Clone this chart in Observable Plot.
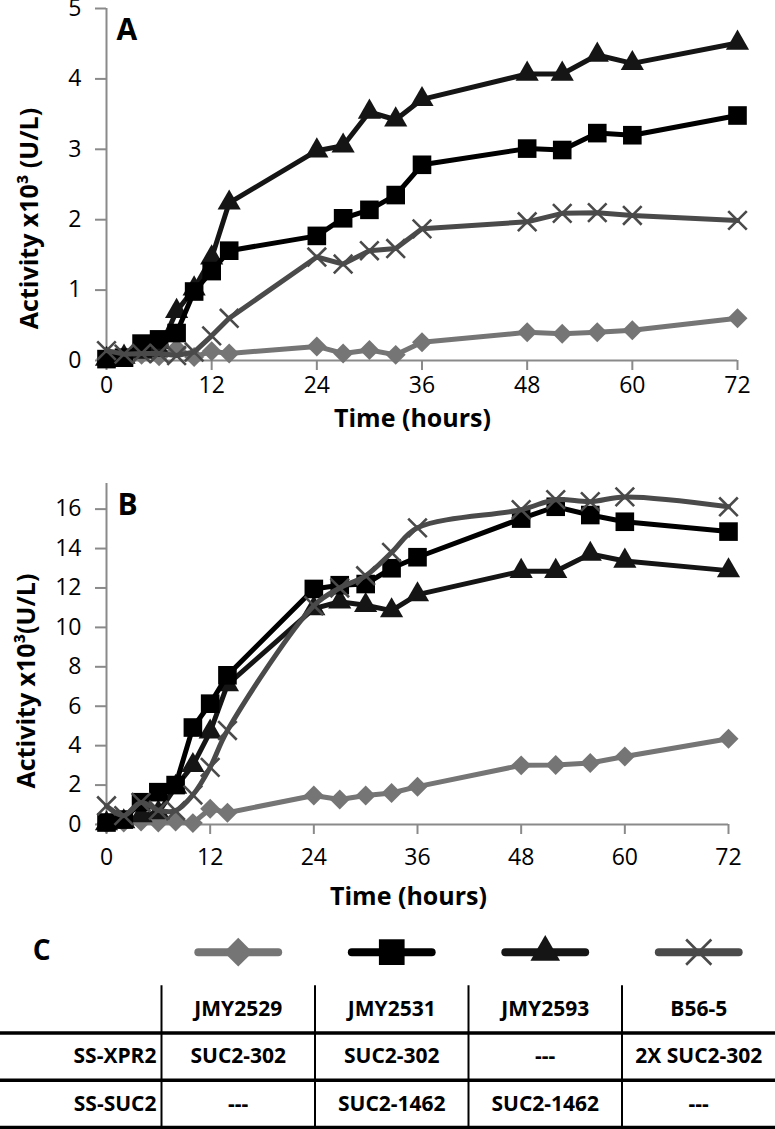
<!DOCTYPE html>
<html><head><meta charset="utf-8">
<script src="https://cdn.jsdelivr.net/npm/d3@7"></script>
<script src="https://cdn.jsdelivr.net/npm/@observablehq/plot@0.6"></script>
<style>
body{margin:0;background:#fff;}
#wrap{position:relative;width:775px;height:1129px;overflow:hidden;background:#fff;}
#wrap > svg{position:absolute;left:0;}
</style></head><body><div id="wrap"></div>
<script>
// ---- data ----
const hours = [0,2,4,6,8,10,12,14,24,27,30,33,36,48,52,56,60,72];
const strains = ["JMY2529","JMY2531","JMY2593","B56-5"];
const xTicks = [0,12,24,36,48,60,72];
const yTicksA = [0,1,2,3,4,5];
const yTicksB = [0,2,4,6,8,10,12,14,16];

// Panel A (activity x10^3 U/L)
const A_JMY2529 = [0.02,0.05,0.08,0.06,0.17,0.05,0.13,0.10,0.20,0.10,0.15,0.08,0.26,0.40,0.38,0.40,0.43,0.60];
const A_JMY2531 = [0.02,0.04,0.24,0.30,0.39,0.98,1.27,1.56,1.77,2.02,2.14,2.35,2.78,3.01,2.99,3.23,3.20,3.48];
const A_JMY2593 = [0.02,0.05,0.12,0.15,0.70,1.02,1.46,2.24,2.98,3.05,3.53,3.42,3.71,4.07,4.07,4.34,4.22,4.51];
const A_B565    = [0.14,0.09,0.10,0.10,0.07,0.12,0.35,0.60,1.47,1.37,1.56,1.59,1.87,1.97,2.09,2.10,2.06,1.99];

// Panel B
const B_JMY2529 = [0.05,0.10,0.15,0.10,0.15,0.07,0.80,0.60,1.47,1.27,1.47,1.60,1.92,3.00,3.02,3.12,3.45,4.35];
const B_JMY2531 = [0.10,0.25,1.13,1.64,2.00,4.92,6.13,7.57,11.95,12.14,12.20,13.00,13.56,15.52,16.12,15.70,15.36,14.86];
const B_JMY2593 = [0.05,0.15,0.45,0.60,1.90,3.00,4.70,7.10,10.95,11.30,11.12,10.85,11.66,12.85,12.85,13.72,13.37,12.88];
const B_B565    = [0.95,0.45,1.12,0.72,0.70,1.50,2.90,4.77,11.10,12.00,12.62,13.80,15.05,15.97,16.48,16.38,16.62,16.12];

// Table C
const rowLabels = ["SS-XPR2","SS-SUC2"];
const rowXPR2 = ["SUC2-302","SUC2-302","---","2X SUC2-302"];
const rowSUC2 = ["---","SUC2-1462","SUC2-1462","---"];

// ---- styles ----
const AXIS = "#8a8a8a";
const FONT = "'Open Sans', 'Noto Sans', sans-serif";
const sty = {
  "JMY2529": {color:"#757575", symbol:"diamond2", r:9, rl:13},
  "JMY2531": {color:"#000000", symbol:"square", r:10.5, rl:14.5},
  "JMY2593": {color:"#151515", symbol:"triangle", r:8.6, rl:11},
  "B56-5":   {color:"#4a4a4a", symbol:"times", r:8.5, rl:11.5}
};
const drawOrder = ["JMY2529","JMY2593","JMY2531","B56-5"];

function tidy(vals){
  return strains.flatMap((s,k)=>hours.map((h,i)=>({strain:s,hour:h,value:vals[k][i]})));
}

function symbolMarks(rows, s, r, extra={}){
  const st = sty[s];
  if (st.symbol === "times")
    return Plot.dot(rows, {...extra, symbol:"times", r, stroke:st.color, strokeWidth:2.6, fill:"none"});
  return Plot.dot(rows, {...extra, symbol:st.symbol, r, fill:st.color, stroke:"none"});
}

function panel(o){
  const data = tidy(o.values);
  const marks = [
    Plot.ruleY([0], {stroke:AXIS, strokeWidth:2}),
    Plot.ruleX([0], {stroke:AXIS, strokeWidth:2}),
    Plot.axisY({ticks:o.yTicks, tickSize:11, tickPadding:14, fontSize:23, stroke:AXIS, strokeWidth:2, fill:"#000", label:null, tickFormat:d=>String(d)}),
    Plot.axisX({ticks:xTicks, tickSize:10, tickPadding:o.xPad, fontSize:23, stroke:AXIS, strokeWidth:2, fill:"#000", label:null, tickFormat:d=>String(d)})
  ];
  for (const s of drawOrder){
    const rows = data.filter(d=>d.strain===s);
    const curve = (o.smooth && o.smooth.includes(s)) ? "catmull-rom" : "linear";
    marks.push(Plot.line(rows, {x:"hour", y:"value", stroke:sty[s].color, strokeWidth:5, curve, strokeLinejoin:"round"}));
    marks.push(symbolMarks(rows, s, sty[s].r, {x:"hour", y:"value"}));
  }
  marks.push(Plot.text([o.letter], {frameAnchor:"top-left", dx:o.letterDx, dy:o.letterDy, fontSize:30, fontWeight:"bold", fill:"#000", lineAnchor:"top", textAnchor:"start"}));
  marks.push(Plot.text([o.yTitle], {frameAnchor:"left", rotate:-90, dx:o.yTitleDx, dy:o.yTitleDy, fontSize:25, fontWeight:"bold", fill:"#000", textAnchor:"middle", lineAnchor:"middle"}));
  marks.push(Plot.text(["Time (hours)"], {frameAnchor:"bottom", dx:o.xTitleDx, dy:o.xTitleDy, fontSize:25, fontWeight:"bold", fill:"#000", textAnchor:"middle", lineAnchor:"middle"}));
  return Plot.plot({
    width:775, height:o.height,
    marginLeft:106, marginRight:o.mRight, marginTop:o.mTop, marginBottom:o.mBottom,
    x:{domain:[0,72]}, y:{domain:[0,o.yMax]},
    style:{fontFamily:FONT, fontSize:"23px", background:"transparent", color:"#000", overflow:"visible"},
    marks
  });
}

const wrap = document.getElementById("wrap");

const pA = panel({values:[A_JMY2529,A_JMY2531,A_JMY2593,A_B565], yTicks:yTicksA, yMax:5,
  height:440, mTop:8, mBottom:80, mRight:38, letter:"A", letterDx:10, letterDy:10, xPad:6,
  yTitle:"Activity x10³ (U/L)", yTitleDx:-77, yTitleDy:34, xTitleDx:-9.5, xTitleDy:58});
pA.style.top = "0px";
wrap.appendChild(pA);

const pB = panel({values:[B_JMY2529,B_JMY2531,B_JMY2593,B_B565], yTicks:yTicksB, yMax:17.3,
  height:460, mTop:13, mBottom:106, mRight:47, letter:"B", letterDx:11, letterDy:10, xPad:14,
  yTitle:"Activity x10³(U/L)", yTitleDx:-80, yTitleDy:27, xTitleDx:-9, xTitleDy:72, smooth:["B56-5"]});
pB.style.top = "470px";
wrap.appendChild(pB);

// ---- Table C ----
const cells = [
  ...strains.map((s,i)=>({col:i,row:1,text:s})),
  ...rowXPR2.map((t,i)=>({col:i,row:2,text:t})),
  ...rowSUC2.map((t,i)=>({col:i,row:3,text:t}))
];
const legendRows = strains.map((s,i)=>({strain:s,col:i}));
const tMarks = [
  Plot.ruleY([2,3,4], {x1:-1.1, x2:4, stroke:"#000", strokeWidth:3.5}),
  Plot.ruleX([0,1,2,3], {y1:1, y2:4, stroke:"#000", strokeWidth:2}),
  Plot.text(cells, {x:d=>d.col+0.5, y:d=>d.row+0.5, text:"text", fontSize:21, fontWeight:"bold", fill:"#000"}),
  Plot.text(rowLabels, {x:()=>0, y:(d,i)=>i+2.5, text:d=>d, dx:-5, textAnchor:"end", fontSize:21, fontWeight:"bold", fill:"#000"}),
  Plot.text(["C"], {x:()=>-0.78, y:()=>0.5, dy:-11, fontSize:28, fontWeight:"bold", fill:"#000"})
];
for (const d of legendRows){
  const st = sty[d.strain];
  tMarks.push(Plot.link([d], {x1:e=>e.col+0.24, x2:e=>e.col+0.76, y1:()=>0.5, y2:()=>0.5, dy:-10, stroke:st.color, strokeWidth:8, strokeLinecap:"round"}));
  tMarks.push(symbolMarks([d], d.strain, st.rl, {x:e=>e.col+0.5, y:()=>0.5, dy:-10}));
}
const pC = Plot.plot({
  width:775, height:199, marginLeft:161, marginRight:0, marginTop:8, marginBottom:2,
  x:{domain:[0,4], range:[161,775], axis:null},
  y:{domain:[0,4], range:[8,197], axis:null},
  style:{fontFamily:FONT, fontSize:"21px", background:"transparent", color:"#000", overflow:"visible"},
  marks:tMarks
});
pC.style.top = "930px";
wrap.appendChild(pC);
</script>
</body></html>
